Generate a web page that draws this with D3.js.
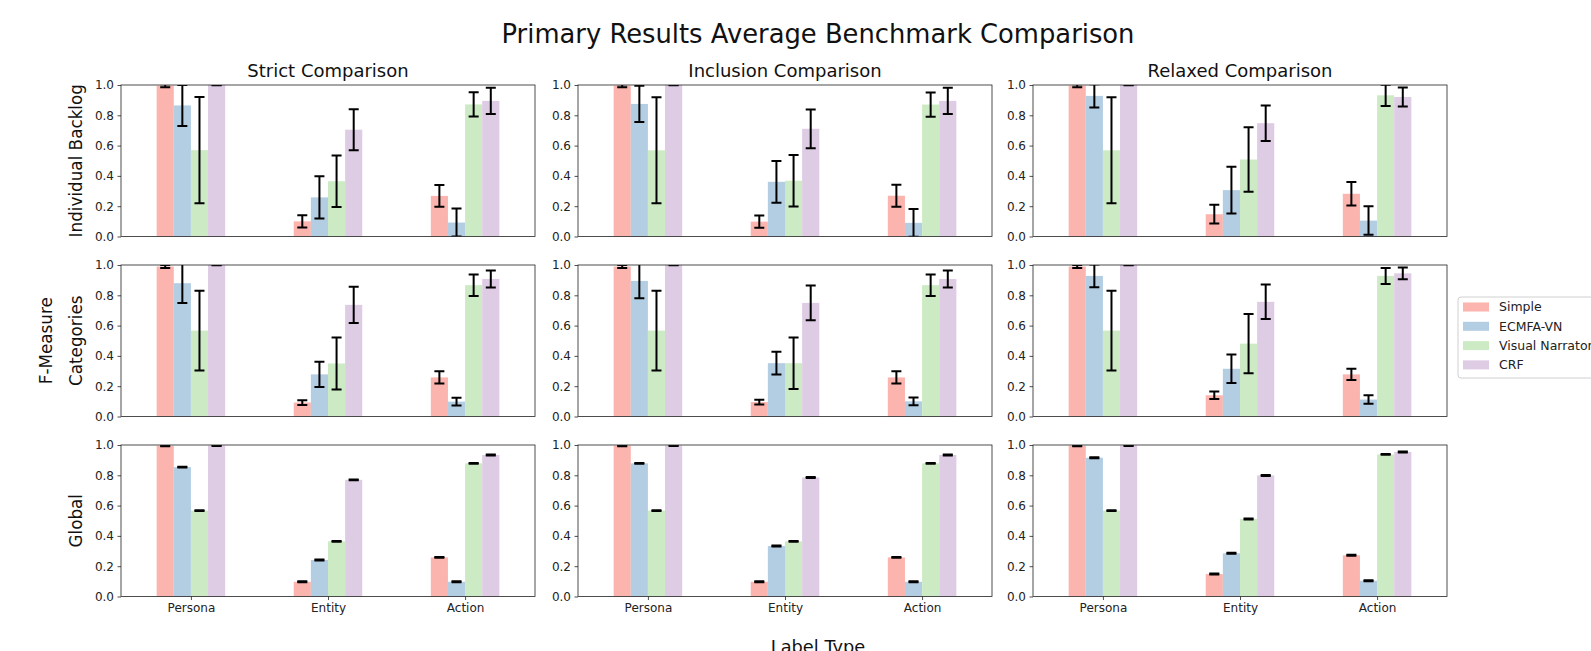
<!DOCTYPE html>
<html>
<head>
<meta charset="utf-8">
<script src="https://cdn.jsdelivr.net/npm/d3@7"></script>
<style>
  body { margin: 0; background: #fff; }
  svg { display: block; font-family: "DejaVu Sans", sans-serif; }
</style>
</head>
<body>
<script>
// chart data
var comparisons = ["Strict Comparison", "Inclusion Comparison", "Relaxed Comparison"];
var metrics = ["Individual Backlog", "Categories", "Global"];
var labelTypes = ["Persona", "Entity", "Action"];
var methods = ["Simple", "ECMFA-VN", "Visual Narrator", "CRF"];
var colors = ["#fbb4ae", "#b3cde3", "#ccebc5", "#decbe4"];
var yTicks = [0.0, 0.2, 0.4, 0.6, 0.8, 1.0];

// one row per method, values for Persona / Entity / Action
var strictBacklog = [[0.995, 0.100, 0.268], [0.865, 0.258, 0.092], [0.570, 0.365, 0.872], [1.000, 0.705, 0.895]];
var strictBacklogErr = [[0.010, 0.040, 0.072], [0.135, 0.140, 0.092], [0.350, 0.170, 0.080], [0.002, 0.135, 0.087]];
var strictCategories = [[0.990, 0.092, 0.258], [0.880, 0.278, 0.098], [0.567, 0.350, 0.867], [1.000, 0.737, 0.908]];
var strictCategoriesErr = [[0.010, 0.016, 0.040], [0.130, 0.083, 0.025], [0.263, 0.172, 0.071], [0.002, 0.120, 0.056]];
var strictGlobal = [[0.995, 0.097, 0.258], [0.854, 0.241, 0.097], [0.567, 0.364, 0.879], [0.996, 0.770, 0.934]];
var strictGlobalErr = [[0.003, 0.003, 0.003], [0.003, 0.003, 0.003], [0.003, 0.003, 0.003], [0.003, 0.003, 0.003]];

var inclusionBacklog = [[0.995, 0.098, 0.269], [0.875, 0.361, 0.090], [0.569, 0.368, 0.871], [1.000, 0.711, 0.895]];
var inclusionBacklogErr = [[0.010, 0.040, 0.072], [0.120, 0.138, 0.092], [0.350, 0.170, 0.080], [0.002, 0.128, 0.087]];
var inclusionCategories = [[0.990, 0.095, 0.258], [0.895, 0.352, 0.100], [0.567, 0.352, 0.867], [1.000, 0.750, 0.908]];
var inclusionCategoriesErr = [[0.010, 0.016, 0.040], [0.114, 0.075, 0.025], [0.263, 0.170, 0.071], [0.002, 0.115, 0.056]];
var inclusionGlobal = [[0.995, 0.097, 0.258], [0.879, 0.333, 0.097], [0.567, 0.364, 0.879], [0.996, 0.786, 0.934]];
var inclusionGlobalErr = [[0.003, 0.003, 0.003], [0.003, 0.003, 0.003], [0.003, 0.003, 0.003], [0.003, 0.003, 0.003]];

var relaxedBacklog = [[0.995, 0.147, 0.282], [0.928, 0.306, 0.105], [0.569, 0.508, 0.932], [1.000, 0.748, 0.921]];
var relaxedBacklogErr = [[0.010, 0.062, 0.078], [0.077, 0.155, 0.094], [0.350, 0.213, 0.070], [0.002, 0.117, 0.063]];
var relaxedCategories = [[0.990, 0.140, 0.278], [0.928, 0.315, 0.112], [0.567, 0.481, 0.928], [1.000, 0.757, 0.945]];
var relaxedCategoriesErr = [[0.010, 0.025, 0.037], [0.075, 0.094, 0.028], [0.263, 0.196, 0.053], [0.002, 0.114, 0.039]];
var relaxedGlobal = [[0.995, 0.148, 0.272], [0.916, 0.285, 0.104], [0.567, 0.512, 0.938], [0.996, 0.799, 0.954]];
var relaxedGlobalErr = [[0.003, 0.003, 0.003], [0.003, 0.003, 0.003], [0.003, 0.003, 0.003], [0.003, 0.003, 0.003]];

// [column][row]
var means = [
  [strictBacklog, strictCategories, strictGlobal],
  [inclusionBacklog, inclusionCategories, inclusionGlobal],
  [relaxedBacklog, relaxedCategories, relaxedGlobal]
];
var errors = [
  [strictBacklogErr, strictCategoriesErr, strictGlobalErr],
  [inclusionBacklogErr, inclusionCategoriesErr, inclusionGlobalErr],
  [relaxedBacklogErr, relaxedCategoriesErr, relaxedGlobalErr]
];

var svgWidth = 1591;
var svgHeight = 651;

var colLeft = [121, 578, 1033];
var rowTop = [85, 265, 445];
var panelWidth = 414;
var panelHeight = 151.5;
var barWidth = 0.125;
var capHalf = 5;

var svg = d3.select("body")
  .append("svg")
  .attr("width", svgWidth)
  .attr("height", svgHeight);

// scales shared by every panel
var xScale = d3.scaleLinear()
  .domain([-0.51, 2.51])
  .range([0, panelWidth]);

var yScale = d3.scaleLinear()
  .domain([0, 1])
  .range([panelHeight, 0]);

var barPx = xScale(barWidth) - xScale(0);

// build flat records for one panel
function panelData(c, r) {
  var out = [];
  methods.forEach(function (m, mi) {
    labelTypes.forEach(function (t, ti) {
      out.push({
        method: mi,
        type: ti,
        value: means[c][r][mi][ti],
        err: errors[c][r][mi][ti]
      });
    });
  });
  return out;
}

comparisons.forEach(function (comp, c) {
  metrics.forEach(function (metric, r) {
    var g = svg.append("g")
      .attr("transform", `translate(${colLeft[c]}, ${rowTop[r]})`);

    var clipId = "clip-" + c + "-" + r;
    g.append("clipPath")
      .attr("id", clipId)
      .append("rect")
      .attr("width", panelWidth)
      .attr("height", panelHeight);

    var data = panelData(c, r);
    var cx = function (d) { return xScale(d.type + (d.method - 1.5) * barWidth); };

    // bars
    g.append("g")
      .selectAll("rect")
      .data(data)
      .enter()
      .append("rect")
      .attr("x", d => cx(d) - barPx / 2)
      .attr("y", d => yScale(d.value))
      .attr("width", barPx)
      .attr("height", d => yScale(0) - yScale(d.value))
      .attr("fill", d => colors[d.method]);

    // error bars
    var eg = g.append("g")
      .attr("clip-path", `url(#${clipId})`)
      .attr("stroke", "#000")
      .attr("stroke-width", 2);

    eg.selectAll("line.v")
      .data(data)
      .enter()
      .append("line")
      .attr("class", "v")
      .attr("x1", cx)
      .attr("x2", cx)
      .attr("y1", d => yScale(d.value - d.err))
      .attr("y2", d => yScale(d.value + d.err));

    [-1, 1].forEach(function (s) {
      eg.selectAll("line.cap" + (s + 1))
        .data(data)
        .enter()
        .append("line")
        .attr("class", "cap" + (s + 1))
        .attr("x1", d => cx(d) - capHalf)
        .attr("x2", d => cx(d) + capHalf)
        .attr("y1", d => yScale(d.value + s * d.err))
        .attr("y2", d => yScale(d.value + s * d.err));
    });

    // y axis
    var leftAxis = d3.axisLeft(yScale)
      .tickValues(yTicks)
      .tickFormat(d3.format(".1f"))
      .tickSize(3.5)
      .tickPadding(3.5);

    var ya = g.append("g").call(leftAxis);
    ya.select(".domain").remove();
    ya.selectAll("text").attr("font-size", 12).attr("fill", "#222").attr("font-family", "DejaVu Sans");
    ya.selectAll("line").attr("stroke", "#222").attr("stroke-width", 0.8);

    // x axis only on the bottom row
    if (r === metrics.length - 1) {
      var bottomAxis = d3.axisBottom(xScale)
        .tickValues([0, 1, 2])
        .tickFormat(i => labelTypes[i])
        .tickSize(3.5)
        .tickPadding(3.5);
      var xa = g.append("g")
        .attr("transform", `translate(0, ${panelHeight})`)
        .call(bottomAxis);
      xa.select(".domain").remove();
      xa.selectAll("text").attr("font-size", 12).attr("fill", "#222").attr("font-family", "DejaVu Sans");
      xa.selectAll("line").attr("stroke", "#222").attr("stroke-width", 0.8);
    }

    // frame
    g.append("rect")
      .attr("width", panelWidth)
      .attr("height", panelHeight)
      .attr("fill", "none")
      .attr("stroke", "#222")
      .attr("stroke-width", 0.8);

    // column titles
    if (r === 0) {
      g.append("text")
        .attr("x", panelWidth / 2)
        .attr("y", -8)
        .attr("text-anchor", "middle")
        .attr("font-size", 18)
        .attr("fill", "#111")
        .text(comp);
    }

    // row labels
    if (c === 0) {
      g.append("text")
        .attr("transform", `translate(-39, ${panelHeight / 2}) rotate(-90)`)
        .attr("text-anchor", "middle")
        .attr("font-size", 16.8)
        .attr("fill", "#111")
        .text(metric);
    }
  });
});

// figure-level labels
svg.append("text")
  .attr("x", 818)
  .attr("y", 43)
  .attr("text-anchor", "middle")
  .attr("font-size", 25.8)
  .attr("fill", "#111")
  .text("Primary Results Average Benchmark Comparison");

svg.append("text")
  .attr("transform", `translate(52, ${(rowTop[0] + rowTop[2] + panelHeight) / 2}) rotate(-90)`)
  .attr("text-anchor", "middle")
  .attr("font-size", 16.8)
  .attr("fill", "#111")
  .text("F-Measure");

svg.append("text")
  .attr("x", 818)
  .attr("y", 653)
  .attr("text-anchor", "middle")
  .attr("font-size", 17.8)
  .attr("fill", "#111")
  .text("Label Type");

// legend
var legend = svg.append("g")
  .attr("transform", "translate(1458, 297)");

legend.append("rect")
  .attr("width", 200)
  .attr("height", 81)
  .attr("rx", 3)
  .attr("fill", "#fff")
  .attr("fill-opacity", 0.8)
  .attr("stroke", "#d0d0d0");

var items = legend.selectAll("g.item")
  .data(methods)
  .enter()
  .append("g")
  .attr("class", "item")
  .attr("transform", (d, i) => `translate(5, ${10 + i * 19.3})`);

items.append("rect")
  .attr("y", -4.5)
  .attr("width", 26)
  .attr("height", 9)
  .attr("fill", (d, i) => colors[i]);

items.append("text")
  .attr("x", 36)
  .attr("dy", "0.35em")
  .attr("font-size", 12.5)
  .attr("fill", "#222")
  .text(d => d);
</script>
</body>
</html>
